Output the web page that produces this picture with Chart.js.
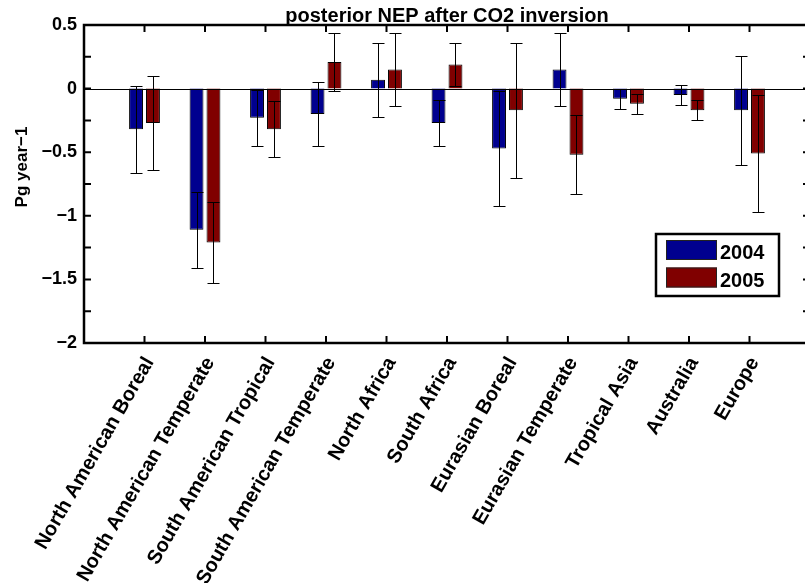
<!DOCTYPE html>
<html>
<head>
<meta charset="utf-8">
<script src="https://cdn.jsdelivr.net/npm/chart.js@4.4.0/dist/chart.umd.min.js"></script>
<style>
  html, body { margin: 0; padding: 0; background: #fff; overflow: hidden; }
  canvas { display: block; }
</style>
</head>
<body>
<canvas id="nepChart" width="812" height="583"></canvas>
<script>
// posterior NEP after CO2 inversion, per TransCom-style region
const regions = [
  'North American Boreal', 'North American Temperate', 'South American Tropical',
  'South American Temperate', 'North Africa', 'South Africa', 'Eurasian Boreal',
  'Eurasian Temperate', 'Tropical Asia', 'Australia', 'Europe'
];
const nep2004 = [-0.32, -1.11, -0.23, -0.20, 0.07, -0.27, -0.47, 0.15, -0.08, -0.05, -0.17];
const nep2005 = [-0.27, -1.21, -0.32, 0.21, 0.15, 0.19, -0.17, -0.52, -0.12, -0.17, -0.51];
const err2004 = [0.34, 0.30, 0.22, 0.25, 0.29, 0.18, 0.45, 0.29, 0.08, 0.08, 0.43];
const err2005 = [0.37, 0.32, 0.22, 0.23, 0.29, 0.17, 0.53, 0.31, 0.08, 0.08, 0.46];
const yTicks = [0.5, 0, -0.5, -1, -1.5, -2];
const yTickMarks = [0.5, 0.25, 0, -0.25, -0.5, -0.75, -1, -1.25, -1.5, -1.75, -2];

const FONT = "'Liberation Sans', Arial, Helvetica, sans-serif";

// one empty slot on each side so the x axis runs 0..12 like the matlab plot
const pad = arr => [null, ...arr, null];
const fmt = v => (v < 0 ? '\u2212' + Math.abs(v) : String(v));

// axes box, inward ticks, zero line, error bars, title and legend
const matlabAxes = {
  id: 'matlabAxes',
  afterDatasetsDraw(chart) {
    const { ctx, chartArea: a, scales: { x, y } } = chart;
    ctx.save();

    // bar baseline
    const y0 = Math.round(y.getPixelForValue(0)) + 0.5;
    ctx.strokeStyle = '#000';
    ctx.lineWidth = 1;
    ctx.beginPath();
    ctx.moveTo(a.left, y0);
    ctx.lineTo(a.right, y0);
    ctx.stroke();

    // error bars
    [err2004, err2005].forEach((errs, d) => {
      const vals = chart.data.datasets[d].data;
      chart.getDatasetMeta(d).data.forEach((bar, i) => {
        const v = vals[i];
        if (v == null) return;
        const e = errs[i - 1];
        const cx = Math.round(bar.x) + 0.5;
        const top = Math.round(y.getPixelForValue(v + e)) + 0.5;
        const bot = Math.round(y.getPixelForValue(v - e)) + 0.5;
        ctx.beginPath();
        ctx.moveTo(cx, top); ctx.lineTo(cx, bot);
        ctx.moveTo(cx - 6, top); ctx.lineTo(cx + 6, top);
        ctx.moveTo(cx - 6, bot); ctx.lineTo(cx + 6, bot);
        ctx.stroke();
      });
    });

    // box + ticks
    ctx.lineWidth = 2.5;
    ctx.strokeRect(a.left, a.top, a.right - a.left, a.bottom - a.top);
    ctx.lineWidth = 2;
    ctx.beginPath();
    for (let i = 1; i <= regions.length; i++) {
      const px = x.getPixelForValue(i);
      ctx.moveTo(px, a.bottom); ctx.lineTo(px, a.bottom - 7);
      ctx.moveTo(px, a.top); ctx.lineTo(px, a.top + 7);
    }
    yTickMarks.forEach(v => {
      const py = y.getPixelForValue(v);
      ctx.moveTo(a.left, py); ctx.lineTo(a.left + 7, py);
      ctx.moveTo(a.right, py); ctx.lineTo(a.right - 7, py);
    });
    ctx.stroke();

    // title
    ctx.fillStyle = '#000';
    ctx.font = 'bold 20px ' + FONT;
    ctx.textAlign = 'center';
    ctx.textBaseline = 'alphabetic';
    ctx.fillText('posterior NEP after CO2 inversion', (a.left + a.right) / 2, 22);

    // y label
    ctx.save();
    ctx.translate(27, 167);
    ctx.rotate(-Math.PI / 2);
    ctx.font = 'bold 17px ' + FONT;
    ctx.fillText('Pg year\u22121', 0, 0);
    ctx.restore();

    // legend
    ctx.lineWidth = 2.5;
    ctx.fillStyle = '#fff';
    ctx.fillRect(656, 234, 123, 62);
    ctx.strokeRect(656, 234, 123, 62);
    ctx.font = 'bold 20px ' + FONT;
    ctx.textAlign = 'left';
    chart.data.datasets.forEach((ds, d) => {
      const top = 240 + d * 27.5;
      ctx.fillStyle = ds.backgroundColor;
      ctx.fillRect(666, top, 51, 20);
      ctx.lineWidth = 1;
      ctx.strokeStyle = '#222';
      ctx.strokeRect(666.5, top + 0.5, 50, 19);
      ctx.fillStyle = '#000';
      ctx.fillText(ds.label, 720, top + 19);
    });
    ctx.restore();
  }
};

new Chart(document.getElementById('nepChart'), {
  type: 'bar',
  data: {
    labels: pad(regions).map(l => l || ''),
    datasets: [
      {
        label: '2004',
        data: pad(nep2004),
        backgroundColor: '#00008F',
        borderColor: '#000',
        borderWidth: 1,
        categoryPercentage: 0.56,
        barPercentage: 0.82,
      },
      {
        label: '2005',
        data: pad(nep2005),
        backgroundColor: '#800000',
        borderColor: '#000',
        borderWidth: 1,
        categoryPercentage: 0.56,
        barPercentage: 0.82,
      },
    ],
  },
  options: {
    responsive: false,
    animation: false,
    layout: { padding: { top: 25, right: 2, left: 0, bottom: 0 } },
    plugins: {
      legend: { display: false },
      title: { display: false },
      tooltip: { enabled: false },
    },
    scales: {
      x: {
        offset: false,
        grid: { display: false, drawTicks: false, offset: false },
        border: { display: false },
        ticks: {
          autoSkip: false,
          minRotation: 60,
          maxRotation: 60,
          padding: 10,
          labelOffset: 5,
          color: '#000',
          font: { family: FONT, size: 20, weight: 'bold' },
        },
        afterFit: s => { s.height = 240; s.paddingLeft = 0; s.paddingRight = 0; },
      },
      y: {
        min: -2,
        max: 0.5,
        grid: { display: false, drawTicks: false },
        border: { display: false },
        afterBuildTicks: s => { s.ticks = yTicks.map(v => ({ value: v })); },
        ticks: {
          padding: 7,
          color: '#000',
          font: { family: FONT, size: 18, weight: 'bold' },
          callback: v => fmt(v),
        },
        afterFit: s => { s.width = 84; },
      },
    },
  },
  plugins: [matlabAxes],
});
</script>
</body>
</html>
